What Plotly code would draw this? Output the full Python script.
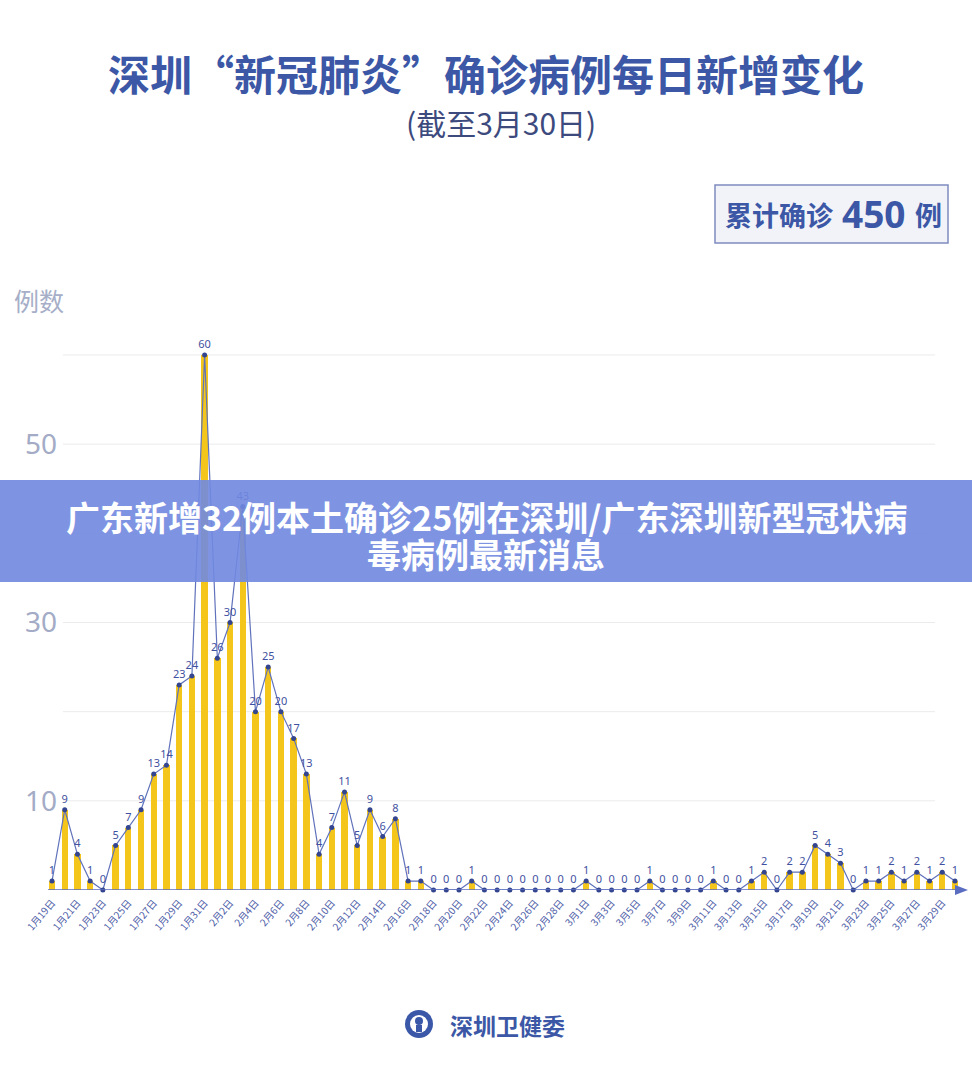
import plotly.graph_objects as go
import pandas as pd

# ---------------- data ----------------
dates = pd.date_range("2020-01-19", "2020-03-30")
date_labels = [f"{d.month}月{d.day}日" for d in dates]
new_cases = [
    1, 9, 4, 1, 0, 5, 7, 9, 13, 14, 23, 24, 60,            # Jan 19 - Jan 31
    26, 30, 43, 20, 25, 20, 17, 13, 4, 7, 11, 5, 9, 6, 8,  # Feb 1 - Feb 15
    1, 1, 0, 0, 0, 1, 0, 0, 0, 0, 0, 0, 0, 0,              # Feb 16 - Feb 29
    1, 0, 0, 0, 0, 1, 0, 0, 0, 0, 1, 0, 0, 1, 2,           # Mar 1 - Mar 15
    0, 2, 2, 5, 4, 3, 0, 1, 1, 2, 1, 2, 1, 2, 1,           # Mar 16 - Mar 30
]
y_tick_vals = [10, 20, 30, 40, 50, 60]
y_tick_text = ["10", "", "30", "", "50", ""]
total_cases = 450

title_text = "深圳“新冠肺炎”确诊病例每日新增变化"
subtitle_text = "(截至3月30日)"
banner_line1 = "广东新增32例本土确诊25例在深圳/广东深圳新型冠状病"
banner_line2 = "毒病例最新消息"
source_text = "深圳卫健委"

# ---------------- geometry helpers ----------------
W, H = 972, 1065
M_T, M_B = 300, 175
PLOT_H = H - M_T - M_B


def px(xp):
    return xp / W


def py(yp):
    return (H - M_B - yp) / PLOT_H


x_idx = list(range(len(dates)))
CJK = "Noto Sans CJK SC"

fig = go.Figure()
fig.add_trace(go.Bar(
    x=x_idx, y=new_cases, width=0.5,
    marker=dict(color="#F4C61B", line=dict(width=0)),
    hoverinfo="skip",
))
fig.add_trace(go.Scatter(
    x=x_idx, y=new_cases, mode="lines+markers+text",
    line=dict(color="#6072bb", width=1.2),
    marker=dict(color="#34458f", size=5),
    text=[str(v) for v in new_cases], textposition="top center",
    textfont=dict(family="Noto Sans", size=11, color="#3f51a0"),
    cliponaxis=False,
))

shapes = []
for v in y_tick_vals:
    shapes.append(dict(type="line", xref="paper", yref="y",
                       x0=px(63), x1=px(935), y0=v, y1=v,
                       line=dict(color="#ebebeb", width=1), layer="below"))
# x axis line with arrow
shapes.append(dict(type="line", xref="paper", yref="y", x0=px(48), x1=px(958),
                   y0=0, y1=0, line=dict(color="#5a6dc0", width=1.5), layer="above"))
shapes.append(dict(type="path", xref="paper", yref="paper",
                   path=f"M {px(968)},{py(890)} L {px(955)},{py(885)} L {px(955)},{py(895)} Z",
                   fillcolor="#5a6dc0", line=dict(width=0), layer="above"))
# total box
shapes.append(dict(type="rect", xref="paper", yref="paper",
                   x0=px(715), x1=px(948), y0=py(243), y1=py(185),
                   fillcolor="#f1f3f8", line=dict(color="#7f8cc0", width=1.5), layer="above"))
# banner
shapes.append(dict(type="rect", xref="paper", yref="paper",
                   x0=0, x1=1, y0=py(582), y1=py(480),
                   fillcolor="rgba(112,136,224,0.9)", line=dict(width=0), layer="above"))
# logo
shapes.append(dict(type="circle", xref="paper", yref="paper",
                   x0=px(405), x1=px(433), y0=py(1038), y1=py(1010),
                   fillcolor="#3b58a8", line=dict(width=0), layer="above"))
shapes.append(dict(type="circle", xref="paper", yref="paper",
                   x0=px(410), x1=px(428), y0=py(1033), y1=py(1015),
                   fillcolor="white", line=dict(width=0), layer="above"))
shapes.append(dict(type="circle", xref="paper", yref="paper",
                   x0=px(415), x1=px(423), y0=py(1025), y1=py(1017),
                   fillcolor="#3b58a8", line=dict(width=0), layer="above"))
shapes.append(dict(type="rect", xref="paper", yref="paper",
                   x0=px(416), x1=px(422), y0=py(1032), y1=py(1025),
                   fillcolor="#3b58a8", line=dict(width=0), layer="above"))

annotations = [
    dict(text=f"<b>{title_text}</b>", x=px(486), y=py(72),
         font=dict(family=CJK, size=42, color="#3b57a6")),
    dict(text=subtitle_text, x=px(501), y=py(122),
         font=dict(family=CJK, size=30, color="#3d4a7e")),
    dict(text="<b>累计确诊</b>", x=px(779), y=py(215),
         font=dict(family=CJK, size=27, color="#3b57a6")),
    dict(text=f"<b>{total_cases}</b>", x=px(874), y=py(213),
         font=dict(family="Noto Sans", size=37, color="#3b57a6")),
    dict(text="<b>例</b>", x=px(928), y=py(215),
         font=dict(family=CJK, size=27, color="#3b57a6")),
    dict(text="例数", x=px(39), y=py(300),
         font=dict(family=CJK, size=25, color="#a6aec8")),
    dict(text=f"<b>{banner_line1}</b>", x=px(486), y=py(516),
         font=dict(family=CJK, size=34, color="white")),
    dict(text=f"<b>{banner_line2}</b>", x=px(486), y=py(553),
         font=dict(family=CJK, size=34, color="white")),
    dict(text=f"<b>{source_text}</b>", x=px(507), y=py(1025),
         font=dict(family=CJK, size=23, color="#3b57a6")),
]
for a in annotations:
    a.update(xref="paper", yref="paper", showarrow=False,
             xanchor="center", yanchor="middle")

unit = 12.718
x0_range = -12 / unit
fig.update_layout(
    width=W, height=H, autosize=False,
    margin=dict(l=0, r=0, t=M_T, b=M_B, pad=0, autoexpand=False),
    paper_bgcolor="white", plot_bgcolor="white",
    showlegend=False, bargap=0,
    shapes=shapes, annotations=annotations,
    xaxis=dict(domain=[px(40), px(968)],
               range=[x0_range, x0_range + 928 / unit],
               tickvals=x_idx[::2], ticktext=date_labels[::2],
               tickangle=-50, tickfont=dict(family=CJK, size=10, color="#4b5ba6"),
               showgrid=False, zeroline=False, showline=False, ticks="",
               ticklabelstandoff=4, automargin=False),
    yaxis=dict(range=[0, PLOT_H / 8.917], anchor="free", position=px(57),
               tickvals=y_tick_vals, ticktext=y_tick_text,
               tickfont=dict(family="Noto Sans", size=28, color="#a3abc6"),
               showgrid=False, zeroline=False, showline=False, ticks="",
               automargin=False),
)

fig.write_html("out.html")
